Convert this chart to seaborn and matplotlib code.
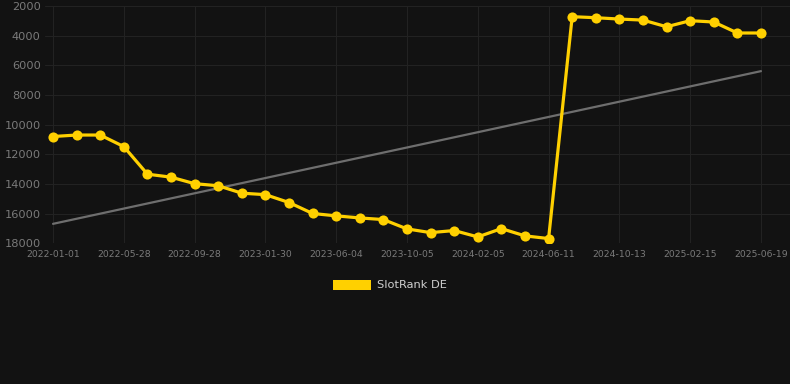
import numpy as np
import pandas as pd
import matplotlib
matplotlib.use("Agg")
import matplotlib.pyplot as plt
import seaborn as sns
from matplotlib.patches import Patch

# tick labels shown on the category axis (every 3rd point)
tick_labels = ["2022-01-01", "2022-05-28", "2022-09-28", "2023-01-30", "2023-06-04",
               "2023-10-05", "2024-02-05", "2024-06-11", "2024-10-13", "2025-02-15",
               "2025-06-19"]
tick_step = 3

# SlotRank DE, one value per sample (31 samples)
rank_de = [10800, 10700, 10700, 11480, 13340, 13540, 13980, 14120, 14620, 14720,
           15250, 15990, 16150, 16290, 16400, 17030, 17280, 17140, 17570, 17010,
           17500, 17680, 2720, 2790, 2880, 2950, 3400, 2990, 3080, 3820, 3820]

BG = "#121212"
YELLOW = "#FFD000"

sns.set_theme(style="dark")
plt.rcParams["font.family"] = ["DejaVu Sans"]

df = pd.DataFrame({"idx": np.arange(len(rank_de)), "rank": rank_de})

fig = plt.figure(figsize=(7.9, 3.84), dpi=100, facecolor=BG)
ax = fig.add_axes([45 / 790, 1 - 243.3 / 384, 1 - 45 / 790, (243.3 - 6) / 384])
ax.set_facecolor(BG)

# linear trend over the series
coef = np.polyfit(df["idx"], df["rank"], 1)
ax.plot(df["idx"], np.polyval(coef, df["idx"]), color="#6e6e6e", lw=1.6, zorder=2)

sns.lineplot(data=df, x="idx", y="rank", ax=ax, color=YELLOW, lw=2.3,
             marker="o", markersize=7.3, markeredgewidth=0, zorder=3)

ax.set_ylim(18000, 2000)
ax.set_xlim(-0.34, 31.23)
ax.set_yticks(range(2000, 18001, 2000))
ax.set_xticks(np.arange(0, len(rank_de), tick_step))
ax.set_xticklabels(tick_labels)
ax.tick_params(axis="both", colors="#7a7a7a", labelsize=6.7, length=0, pad=5)
ax.tick_params(axis="y", labelsize=8.2, pad=3)
ax.grid(True, color="#222222", lw=0.8)
ax.set_xlabel("")
ax.set_ylabel("")
for s in ax.spines.values():
    s.set_visible(False)

ax.legend(handles=[Patch(facecolor=YELLOW, edgecolor="none", label="SlotRank DE")],
          loc="center", bbox_to_anchor=(390 / 790, 1 - 285 / 384),
          bbox_transform=fig.transFigure, frameon=False, fontsize=8.2,
          labelcolor="#d0d0d0", handlelength=3.3, handleheight=1.0, handletextpad=0.5)

fig.savefig("out.png", dpi=100, facecolor=BG)
